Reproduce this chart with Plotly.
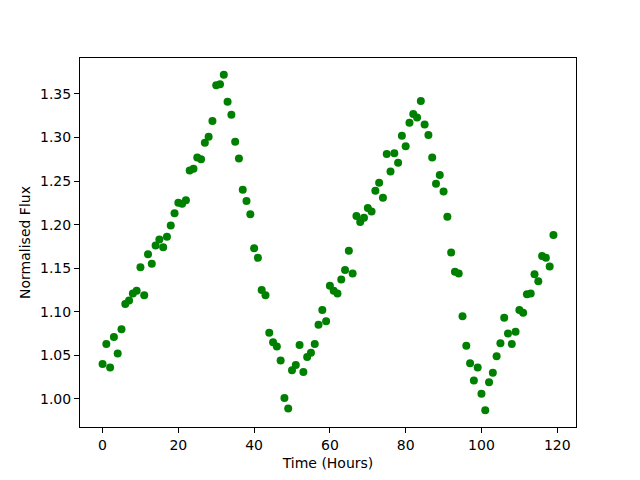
import plotly.graph_objects as go

hours = list(range(120))
flux = [
    1.040, 1.063, 1.036, 1.071, 1.052, 1.080, 1.109, 1.113, 1.121, 1.124,
    1.151, 1.119, 1.166, 1.155, 1.176, 1.183, 1.174, 1.186, 1.199, 1.213,
    1.225, 1.224, 1.228, 1.262, 1.264, 1.277, 1.275, 1.294, 1.301, 1.319,
    1.360, 1.361, 1.372, 1.341, 1.326, 1.295, 1.276, 1.240, 1.227, 1.212,
    1.173, 1.162, 1.125, 1.119, 1.076, 1.065, 1.060, 1.044, 1.001, 0.989,
    1.033, 1.039, 1.062, 1.031, 1.048, 1.053, 1.063, 1.085, 1.102, 1.089,
    1.130, 1.124, 1.121, 1.137, 1.148, 1.170, 1.144, 1.210, 1.203, 1.208,
    1.219, 1.215, 1.239, 1.248, 1.231, 1.281, 1.261, 1.282, 1.271, 1.302,
    1.290, 1.317, 1.327, 1.323, 1.342, 1.315, 1.303, 1.277, 1.247, 1.257,
    1.238, 1.209, 1.168, 1.146, 1.144, 1.095, 1.061, 1.041, 1.021, 1.036,
    1.006, 0.987, 1.019, 1.030, 1.049, 1.064, 1.093, 1.075, 1.063, 1.077,
    1.102, 1.099, 1.120, 1.121, 1.143, 1.135, 1.164, 1.162, 1.152, 1.188,
]
x_ticks = [0, 20, 40, 60, 80, 100, 120]
y_ticks = [1.00, 1.05, 1.10, 1.15, 1.20, 1.25, 1.30, 1.35]
y_tick_labels = ["1.00", "1.05", "1.10", "1.15", "1.20", "1.25", "1.30", "1.35"]

def padded(vals, frac=0.05):
    lo, hi = min(vals), max(vals)
    d = (hi - lo) * frac
    return [lo - d, hi + d]

fig = go.Figure(go.Scatter(
    x=hours, y=flux, mode="markers",
    marker=dict(color="#008000", size=8, line=dict(width=0)),
))

axis_common = dict(
    showgrid=False, zeroline=False, showline=True, linecolor="black",
    linewidth=1, mirror=True, ticks="outside", ticklen=5, tickwidth=1,
    tickcolor="black", automargin=False,
    tickfont=dict(family="DejaVu Sans", size=14, color="black"),
)

# the page body adds an 8px offset, so margins are shifted to compensate
fig.update_layout(
    width=640, height=480,
    paper_bgcolor="white", plot_bgcolor="white",
    margin=dict(l=72, r=72, t=50, b=61, autoexpand=False),
    showlegend=False,
    font=dict(family="DejaVu Sans", size=14, color="black"),
    xaxis=dict(range=padded(hours), tickvals=x_ticks,
               title=dict(text="Time (Hours)", standoff=6,
                          font=dict(family="DejaVu Sans", size=14)),
               **axis_common),
    yaxis=dict(range=padded(flux), tickvals=y_ticks, ticktext=y_tick_labels,
               title=dict(text="Normalised Flux", standoff=6,
                          font=dict(family="DejaVu Sans", size=14)),
               **axis_common),
)

fig.write_html("out.html")
